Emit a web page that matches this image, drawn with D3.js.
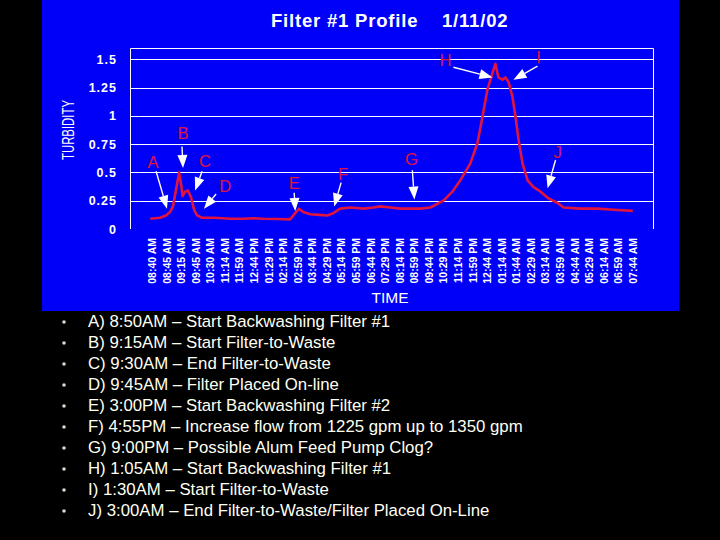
<!DOCTYPE html>
<html>
<head>
<meta charset="utf-8">
<script src="https://cdn.jsdelivr.net/npm/d3@7"></script>
<style>
  html, body { margin: 0; padding: 0; background: #000; }
  svg { display: block; }
</style>
</head>
<body>
<div id="chart"></div>
<script>
// ---------- DATA ----------
const chartTitle = "Filter #1 Profile";
const chartDate = "1/11/02";
const yTitle = "TURBIDITY";
const xTitle = "TIME";

const timeLabels = [
  "08:40 AM","08:45 AM","09:15 AM","09:45 AM","10:30 AM","11:14 AM","11:59 AM",
  "12:44 PM","01:29 PM","02:14 PM","02:59 PM","03:44 PM","04:29 PM","05:14 PM",
  "05:59 PM","06:44 PM","07:29 PM","08:14 PM","08:59 PM","09:44 PM","10:29 PM",
  "11:14 PM","11:59 PM","12:44 AM","01:14 AM","01:44 AM","02:29 AM","03:14 AM",
  "03:59 AM","04:44 AM","05:29 AM","06:14 AM","06:59 AM","07:44 AM"
];
const yTicks = [0, 0.25, 0.5, 0.75, 1, 1.25, 1.5];
const yTickLabels = ["0","0.25","0.5","0.75","1","1.25","1.5"];

// sample position measured in time-label steps, and turbidity reading
const samplePos = [
  -0.1, 0.57, 0.98, 1.26, 1.46, 1.67, 1.88, 2.01, 2.12, 2.29, 2.49, 2.70, 2.91, 3.11,
  3.46, 4.21, 4.9, 5.38, 6.3, 7.0, 7.65, 8.6, 9.5, 9.85, 10.12, 10.4, 10.88, 11.5, 12.05,
  12.46, 12.94, 13.63, 14.1, 14.52, 15.21, 15.69, 16.4, 17.06, 17.8, 18.44, 19.13,
  20.02, 20.64, 21.18, 21.87, 22.36, 22.70, 23.04, 23.39, 23.59, 23.80, 24.07,
  24.28, 24.49, 24.76, 24.97, 25.18, 25.45, 25.80, 26.21, 26.69, 27.24, 27.86,
  28.27, 29.44, 30.61, 31.71, 33.02
];
const turbidity = [
  0.09, 0.10, 0.12, 0.15, 0.20, 0.35, 0.50, 0.40, 0.29, 0.33, 0.34, 0.28, 0.17, 0.12,
  0.10, 0.10, 0.095, 0.09, 0.09, 0.095, 0.09, 0.088, 0.085, 0.14, 0.18, 0.15, 0.13, 0.125, 0.12,
  0.14, 0.18, 0.19, 0.185, 0.18, 0.19, 0.20, 0.19, 0.18, 0.18, 0.18, 0.19,
  0.25, 0.33, 0.43, 0.58, 0.76, 0.99, 1.23, 1.38, 1.46, 1.34, 1.32,
  1.34, 1.30, 1.17, 0.99, 0.79, 0.58, 0.43, 0.37, 0.33, 0.27, 0.23,
  0.19, 0.18, 0.18, 0.17, 0.16
];

// event annotations (letter, label pos, arrow start, arrow tip) in data units
const eventLetters = ["A","B","C","D","E","F","G","H","I","J"];
const eventLabelPos = [[0.09,0.59],[2.15,0.85],[3.66,0.60],[5.04,0.38],[9.78,0.41],
                       [13.14,0.49],[17.82,0.62],[20.16,1.49],[26.55,1.52],[27.86,0.68]];
const eventArrowFrom = [[0.30,0.51],[2.08,0.73],[3.46,0.51],[4.42,0.31],[9.78,0.32],
                        [13.0,0.41],[17.89,0.52],[20.71,1.43],[26.48,1.44],[27.72,0.61]];
const eventArrowTo = [[1.05,0.18],[2.15,0.54],[2.98,0.34],[3.59,0.18],[9.85,0.16],
                      [12.53,0.20],[18.03,0.26],[23.39,1.34],[24.83,1.32],[27.17,0.36]];

const notes = [
  "A) 8:50AM \u2013 Start Backwashing Filter #1",
  "B) 9:15AM \u2013 Start Filter-to-Waste",
  "C) 9:30AM \u2013 End Filter-to-Waste",
  "D) 9:45AM \u2013 Filter Placed On-line",
  "E) 3:00PM \u2013 Start Backwashing Filter #2",
  "F) 4:55PM \u2013 Increase flow from 1225 gpm up to 1350 gpm",
  "G) 9:00PM \u2013 Possible Alum Feed Pump Clog?",
  "H) 1:05AM \u2013 Start Backwashing Filter #1",
  "I) 1:30AM \u2013 Start Filter-to-Waste",
  "J) 3:00AM \u2013 End Filter-to-Waste/Filter Placed On-Line"
];

// ---------- LAYOUT ----------
const W = 720, H = 540;
const BLUE = "#0000f8";
const RED = "#e0143c";
const FONT = "Liberation Sans, Arial, sans-serif";
const plot = { left: 130, right: 653, top: 48, bottom: 229 };

const svg = d3.select("#chart").append("svg")
  .attr("width", W).attr("height", H);

svg.append("rect").attr("width", W).attr("height", H).attr("fill", "#000");
svg.append("rect").attr("x", 42).attr("y", 0).attr("width", 637).attr("height", 311)
  .attr("fill", BLUE);

const x = d3.scaleLinear().domain([0, timeLabels.length - 1]).range([151.7, 632.5]);
const y = d3.scaleLinear().domain([0, 1.6]).range([plot.bottom, plot.top]);

// title
[[chartTitle, 271], [chartDate, 442]].forEach(([t, tx]) => {
  svg.append("text").attr("x", tx).attr("y", 27)
    .attr("fill", "#fff").attr("font-family", FONT)
    .attr("font-weight", "bold").attr("font-size", 18.5).attr("letter-spacing", 0.8)
    .text(t);
});

// grid
const g = svg.append("g");
g.selectAll("line.grid").data(yTicks.filter(d => d > 0)).join("line")
  .attr("class", "grid")
  .attr("x1", plot.left).attr("x2", plot.right)
  .attr("y1", d => Math.round(y(d)) + 0.5).attr("y2", d => Math.round(y(d)) + 0.5)
  .attr("stroke", "#fff").attr("stroke-width", 1);
// frame (top, left, right)
g.append("path")
  .attr("d", `M${plot.left + 0.5},${plot.bottom}V${plot.top + 0.5}H${plot.right + 0.5}V${plot.bottom}`)
  .attr("fill", "none").attr("stroke", "#fff").attr("stroke-width", 1);

// y axis via d3 axis
const yAxis = d3.axisLeft(y).tickValues(yTicks)
  .tickFormat((d, i) => yTickLabels[i]).tickSize(0).tickPadding(13);
const yg = svg.append("g").attr("transform", `translate(${plot.left},0)`).call(yAxis);
yg.select(".domain").remove();
yg.selectAll("text").attr("fill", "#fff")
  .attr("font-family", FONT)
  .attr("font-weight", "bold").attr("font-size", 12.5).attr("letter-spacing", 1);

// y title
svg.append("text")
  .attr("transform", "translate(68,130) rotate(-90)")
  .attr("text-anchor", "middle").attr("dominant-baseline", "central")
  .attr("fill", "#fff").attr("font-family", FONT)
  .attr("font-size", 16)
  .attr("textLength", 60).attr("lengthAdjust", "spacingAndGlyphs")
  .text(yTitle);

// x axis labels via d3 axis
const xAxis = d3.axisBottom(x).tickValues(d3.range(timeLabels.length))
  .tickFormat(i => timeLabels[i]).tickSize(0);
const xg = svg.append("g").attr("transform", `translate(0,238)`).call(xAxis);
xg.select(".domain").remove();
xg.selectAll("text")
  .attr("transform", "rotate(-90)")
  .attr("x", 0).attr("y", 0).attr("dy", "0.36em")
  .attr("text-anchor", "end")
  .attr("fill", "#fff").attr("font-family", FONT)
  .attr("font-weight", "bold").attr("font-size", 10.5);

svg.append("text").attr("x", 390).attr("y", 303)
  .attr("text-anchor", "middle").attr("fill", "#fff")
  .attr("font-family", FONT).attr("font-size", 15.5)
  .text(xTitle);

// curve
const pts = samplePos.map((p, i) => [p, turbidity[i]]);
svg.append("path").datum(pts)
  .attr("d", d3.line().x(d => x(d[0])).y(d => y(d[1])).curve(d3.curveLinear))
  .attr("fill", "none").attr("stroke", RED).attr("stroke-width", 2.6)
  .attr("stroke-linejoin", "round");

// annotations
const ann = svg.append("g");
eventLetters.forEach((L, i) => {
  const lx = x(eventLabelPos[i][0]), ly = y(eventLabelPos[i][1]);
  ann.append("text").attr("x", lx).attr("y", ly)
    .attr("text-anchor", "middle").attr("dominant-baseline", "central")
    .attr("fill", RED).attr("font-family", FONT)
    .attr("font-size", 16.5).text(L);
  const x1 = x(eventArrowFrom[i][0]), y1 = y(eventArrowFrom[i][1]);
  const x2 = x(eventArrowTo[i][0]), y2 = y(eventArrowTo[i][1]);
  const dx = x2 - x1, dy = y2 - y1, len = Math.hypot(dx, dy);
  const ux = dx / len, uy = dy / len;
  const headL = 13, headW = 5;
  const bx = x2 - ux * headL, by = y2 - uy * headL;
  ann.append("line").attr("x1", x1).attr("y1", y1).attr("x2", bx).attr("y2", by)
    .attr("stroke", "#fff").attr("stroke-width", 1.4);
  ann.append("path")
    .attr("d", `M${x2},${y2}L${bx - uy * headW},${by + ux * headW}L${bx + uy * headW},${by - ux * headW}Z`)
    .attr("fill", "#fff");
});

// notes list
const ng = svg.append("g");
notes.forEach((t, i) => {
  const yy = 321 + i * 21;
  ng.append("circle").attr("cx", 64).attr("cy", yy + 1).attr("r", 1.8).attr("fill", "#d8d8c8");
  ng.append("text").attr("x", 88).attr("y", yy).attr("dominant-baseline", "central")
    .attr("fill", "#fffff2").attr("font-family", FONT)
    .attr("font-size", 16.8).text(t);
});
</script>
</body>
</html>
